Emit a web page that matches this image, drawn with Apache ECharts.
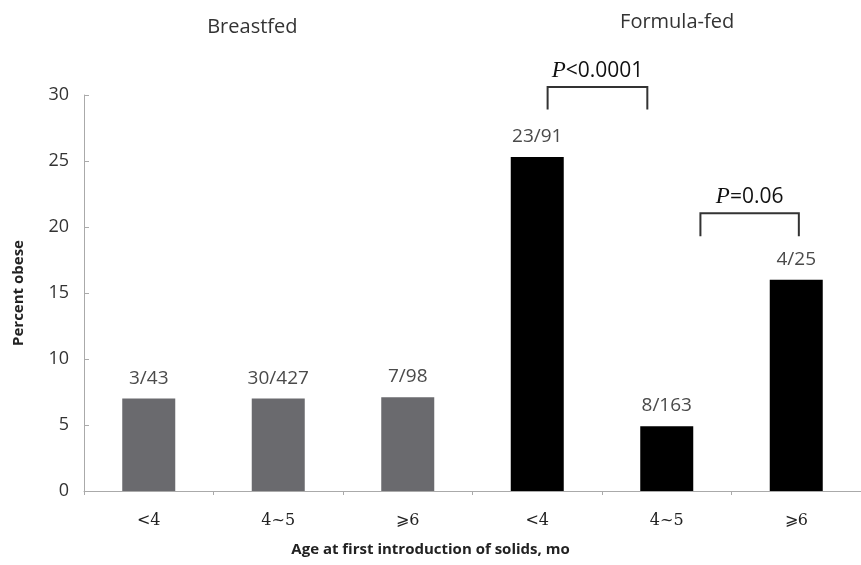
<!DOCTYPE html>
<html><head><meta charset="utf-8">
<script src="https://cdn.jsdelivr.net/npm/echarts@6/dist/echarts.min.js"></script>
<style>html,body{margin:0;padding:0;background:#fff}#c{width:861px;height:565px}</style>
</head><body><div id="c"></div>
<script>
const categories = ['<4', '4~5', '\u2A7E6', '<4', '4~5', '\u2A7E6'];
const groups = ['Breastfed', 'Formula-fed'];
const percentObese = [7.0, 7.0, 7.1, 25.3, 4.9, 16.0];
const countLabels = ['3/43', '30/427', '7/98', '23/91', '8/163', '4/25'];
const groupOfBar = [0, 0, 0, 1, 1, 1];
const yTicks = [0, 5, 10, 15, 20, 25, 30];
const compStart = [3.08, 4.26];
const compEnd = [3.85, 5.02];
const compTop = [30.6, 21.05];
const compBottom = [28.9, 19.3];
const compLabel = ['<0.0001', '=0.06'];

const barColors = ['#6a6a6e', '#000000'];
const chart = echarts.init(document.getElementById('c'), null, {renderer: 'canvas'});
const option = {
  animation: false,
  title: {
    text: 'Age at first introduction of solids, mo',
    left: 'center', top: 537,
    textStyle: {fontFamily: 'Open Sans', fontWeight: 'bold', fontSize: 15, color: '#222'}
  },
  grid: {left: 84, right: -2, top: 95, bottom: 74, containLabel: false},
  xAxis: {
    type: 'category',
    data: categories,
    axisLine: {lineStyle: {color: '#aaa', width: 1}},
    axisTick: {show: true, length: 4, lineStyle: {color: '#aaa'}},
    axisLabel: {fontFamily: 'DejaVu Serif', fontSize: 16, color: '#222', margin: 22}
  },
  yAxis: {
    type: 'value',
    min: yTicks[0], max: yTicks[yTicks.length - 1], interval: 5,
    name: 'Percent obese',
    nameLocation: 'middle',
    nameGap: 58,
    nameTextStyle: {fontFamily: 'Open Sans', fontWeight: 'bold', fontSize: 15, color: '#222'},
    axisLine: {show: true, lineStyle: {color: '#aaa'}},
    axisTick: {show: true, inside: true, length: 5, lineStyle: {color: '#aaa'}},
    splitLine: {show: false},
    axisLabel: {fontFamily: 'Open Sans', fontSize: 18, color: '#333', margin: 15}
  },
  series: [{
    type: 'bar',
    barWidth: 53,
    data: percentObese.map((v, i) => ({
      value: v,
      itemStyle: {color: barColors[groupOfBar[i]]},
      label: {show: true, position: 'top', distance: 11, formatter: countLabels[i],
        fontFamily: 'Open Sans', fontSize: 19, color: '#4a4a4a'}
    }))
  }]
};
chart.setOption(option);

function px(xIdx, yVal) {
  const i0 = Math.floor(xIdx);
  const a = chart.convertToPixel({xAxisIndex: 0}, i0);
  const b = chart.convertToPixel({xAxisIndex: 0}, i0 + 1);
  const x = a + (b - a) * (xIdx - i0);
  const y = chart.convertToPixel({yAxisIndex: 0}, yVal);
  return [x, y];
}
const graphics = [];
const groupPos = [[0.8, 27], [4.08, 22]];
groups.forEach((g, gi) => {
  const p = px(groupPos[gi][0], 0);
  graphics.push({type: 'text', x: p[0], y: groupPos[gi][1],
    style: {text: g, fontFamily: 'Open Sans', fontSize: 20, fill: '#333', textAlign: 'center', textVerticalAlign: 'middle'}});
});
for (let k = 0; k < compStart.length; k++) {
  const p1 = px(compStart[k], compBottom[k]);
  const p2 = px(compStart[k], compTop[k]);
  const p3 = px(compEnd[k], compTop[k]);
  const p4 = px(compEnd[k], compBottom[k]);
  graphics.push({type: 'polyline', shape: {points: [p1, p2, p3, p4]},
    style: {stroke: '#333', lineWidth: 2, fill: null}});
  const cx = (p2[0] + p3[0]) / 2;
  graphics.push({type: 'text', x: cx, y: p2[1] - 16,
    style: {rich: {p: {fontFamily: 'Liberation Serif', fontStyle: 'italic', fontSize: 23, fill: '#111'},
                   t: {fontFamily: 'Open Sans', fontSize: 21, fill: '#111'}},
      text: '{p|P}{t|' + compLabel[k] + '}', textAlign: 'center', textVerticalAlign: 'middle'}});
}
chart.setOption({graphic: graphics});
</script></body></html>
